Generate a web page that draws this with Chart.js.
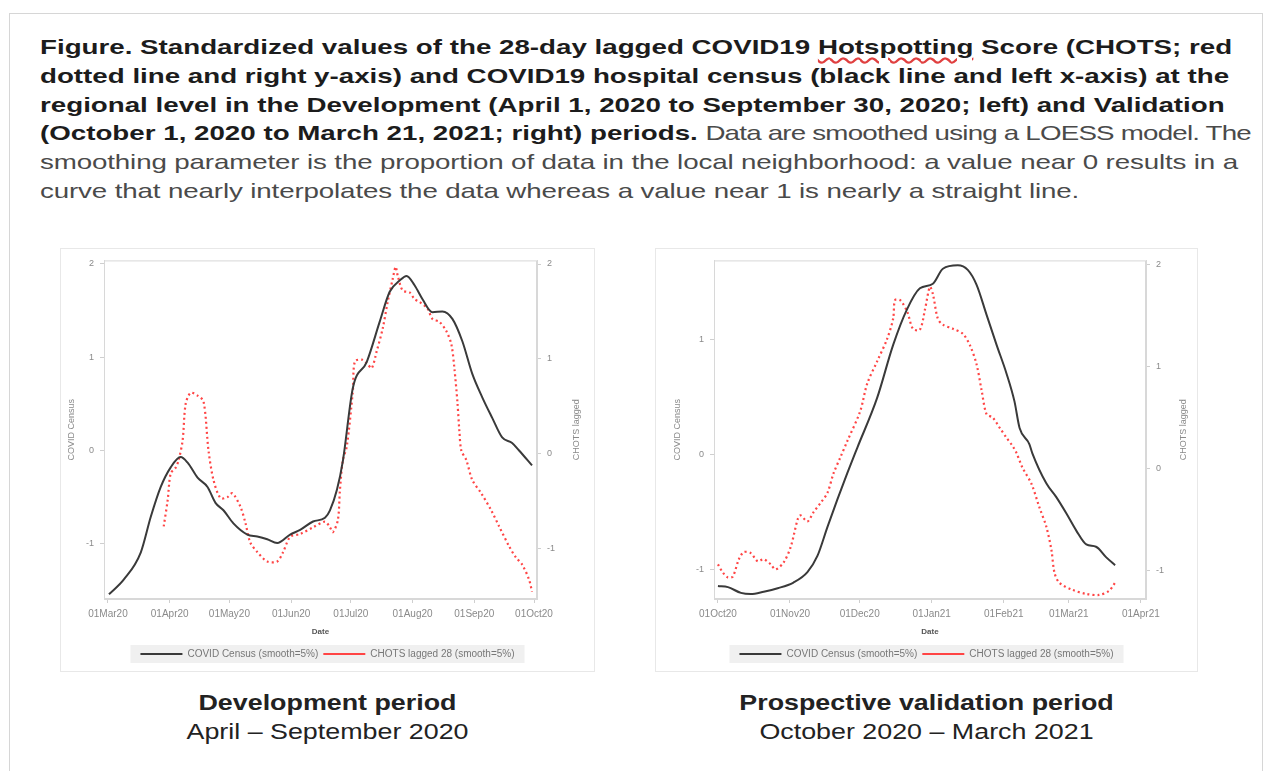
<!DOCTYPE html>
<html>
<head>
<meta charset="utf-8">
<script src="https://cdn.jsdelivr.net/npm/chart.js@4/dist/chart.umd.min.js"></script>
<style>
  body { margin: 0; background: #fff; width: 1266px; height: 771px; overflow: hidden; position: relative;
         font-family: 'Liberation Sans', Arial, sans-serif; }
  #frame { position: absolute; left: 9px; top: 13px; width: 1252px; height: 800px; border: 1px solid #d6d6d6; }
  #caption { position: absolute; left: 40px; top: 33px; font-size: 21px; line-height: 28.8px; color: #4a4a4a;
             white-space: nowrap; transform: scaleX(1.32); transform-origin: 0 0; letter-spacing: -0.1px; }
  #caption b { color: #1c1c1c; letter-spacing: 0; }
  #caption .tight { letter-spacing: -0.6px; }
  .wavy { text-decoration: underline wavy #e04040; text-underline-offset: 3px; }
  .panel { position: absolute; top: 248px; height: 424px; border: 1px solid #e8e8e8; box-sizing: border-box; }
  .sub { position: absolute; top: 688px; text-align: center; font-size: 22px; line-height: 29px; color: #222;
         transform: scaleX(1.22); }
</style>
</head>
<body>
<div id="frame"></div>
<div id="caption">
<b>Figure. Standardized values of the 28-day lagged COVID19 <span class="wavy">Hotspotting</span> Score (CHOTS; red</b><br>
<b>dotted line and right y-axis) and COVID19 hospital census (black line and left x-axis) at the</b><br>
<b>regional level in the Development (April 1, 2020 to September 30, 2020; left) and Validation</b><br>
<b>(October 1, 2020 to March 21, 2021; right) periods.</b> <span class="tight">Data are smoothed using a LOESS model. The</span><br>
smoothing parameter is the proportion of data in the local neighborhood: a value near 0 results in a<br>
curve that nearly interpolates the data whereas a value near 1 is nearly a straight line.
</div>

<div class="panel" style="left:60px;width:535px"><canvas id="dev"></canvas></div>
<div class="panel" style="left:655px;width:543px"><canvas id="val"></canvas></div>

<div class="sub" style="left:60px;width:535px"><b>Development period</b><br>April – September 2020</div>
<div class="sub" style="left:655px;width:543px"><b>Prospective validation period</b><br>October 2020 – March 2021</div>

<script>
// development period: x = days since 01Mar20
const devTickDays = [0, 31, 61, 92, 122, 153, 184, 214];
const devTickLabels = ['01Mar20', '01Apr20', '01May20', '01Jun20', '01Jul20', '01Aug20', '01Sep20', '01Oct20'];

const devCensusDay = [0.5, 8, 16.5, 21.5, 26.5, 31.5, 36.5, 40, 45, 50, 54, 58, 63, 70, 75, 80, 85, 91.5, 96.5,
  103, 109, 111.5, 115, 118, 123, 130, 136.5, 141.5, 146.5, 150, 154, 158, 163, 168, 173, 178, 183, 188, 193,
  198, 203, 206.5, 213];
const devCensus = [-1.54, -1.38, -1.09, -0.71, -0.39, -0.18, -0.07, -0.13, -0.29, -0.39, -0.56, -0.64, -0.78,
  -0.90, -0.92, -0.95, -0.99, -0.90, -0.85, -0.76, -0.72, -0.64, -0.42, -0.11, 0.67, 0.95, 1.38, 1.70, 1.82,
  1.87, 1.77, 1.62, 1.48, 1.49, 1.41, 1.17, 0.82, 0.57, 0.35, 0.14, 0.08, 0.00, -0.16];

const devChotsDay = [28, 30, 31.5, 34, 35.5, 37.5, 39, 41.5, 45, 48, 50.5, 53, 56.5, 60, 62.5, 66.5, 69, 71.5,
  75, 80, 85, 88, 91.5, 96.5, 103, 109, 111.5, 113, 115.5, 116.5, 118, 120, 123, 124, 127.5, 130.5, 132.5, 135,
  138, 140.5, 143, 144.5, 145.5, 148, 151.5, 154, 156.5, 160.5, 163, 166.5, 170, 172.5, 174, 175.5, 176.5,
  177.5, 180, 183, 187.5, 192.5, 196.5, 201.5, 205, 208, 211.5, 213];
const devChots = [-0.77, -0.49, -0.21, -0.15, -0.07, 0.14, 0.52, 0.64, 0.61, 0.55, 0.03, -0.28, -0.47, -0.46,
  -0.42, -0.56, -0.73, -0.94, -1.04, -1.14, -1.14, -1.04, -0.88, -0.85, -0.78, -0.72, -0.78, -0.83, -0.70,
  -0.39, -0.07, 0.08, 0.66, 0.97, 0.99, 0.94, 0.90, 1.08, 1.32, 1.60, 1.84, 1.97, 1.88, 1.72, 1.70, 1.63, 1.60,
  1.53, 1.42, 1.39, 1.29, 1.15, 0.90, 0.55, 0.24, 0.03, -0.07, -0.28, -0.42, -0.60, -0.77, -0.98, -1.10,
  -1.17, -1.33, -1.46];

// validation period: x = days since 01Oct20
const valTickDays = [0, 31, 61, 92, 123, 151, 182];
const valTickLabels = ['01Oct20', '01Nov20', '01Dec20', '01Jan21', '01Feb21', '01Mar21', '01Apr21'];

const valCensusDay = [0, 4.3, 9.9, 14.1, 19.7, 25.7, 32.5, 38.5, 42.8, 47.1, 51.4, 55.7, 60, 68.5, 75.4, 81.4,
  86.9, 92.5, 96.8, 103.2, 107.5, 111.3, 115.6, 119.9, 124.2, 127.6, 129.8, 134, 135.3, 141.3, 145.6, 149.9,
  154.2, 158.5, 162.7, 167, 170.9];
const valCensus = [-1.14, -1.15, -1.20, -1.21, -1.19, -1.16, -1.11, -1.02, -0.88, -0.63, -0.39, -0.16, 0.06,
  0.49, 0.95, 1.26, 1.44, 1.48, 1.61, 1.64, 1.60, 1.47, 1.21, 0.95, 0.70, 0.46, 0.23, 0.09, 0.01, -0.25, -0.37,
  -0.51, -0.66, -0.78, -0.80, -0.89, -0.96];

const valChotsDay = [0, 2.1, 4.3, 6.4, 9, 11.1, 14.1, 17.1, 19.7, 22.7, 24.8, 28.3, 31.3, 34.3, 35.5, 38.5,
  41.1, 44.1, 47.1, 49.7, 52.7, 55.7, 61.2, 64.2, 68.5, 72.8, 75.4, 76.2, 78.4, 81.4, 83.9, 86.9, 89.1, 91.2,
  92.5, 94.6, 96.8, 101.1, 105.4, 108.4, 111.3, 113.5, 115.6, 118.2, 121.2, 124.2, 126.8, 128.5, 131, 134.9,
  138.3, 141.3, 143.5, 144.8, 146.9, 152.5, 158.5, 164, 168.3, 170.9];
const valChots = [-0.94, -1.02, -1.07, -1.06, -0.89, -0.82, -0.83, -0.91, -0.89, -0.94, -0.99, -0.92, -0.77,
  -0.50, -0.46, -0.52, -0.43, -0.34, -0.24, -0.05, 0.11, 0.27, 0.56, 0.83, 1.05, 1.27, 1.47, 1.65, 1.65, 1.54,
  1.37, 1.36, 1.56, 1.78, 1.71, 1.47, 1.41, 1.37, 1.32, 1.21, 1.02, 0.76, 0.53, 0.50, 0.40, 0.30, 0.22, 0.15,
  0.01, -0.15, -0.38, -0.57, -0.80, -1.02, -1.12, -1.19, -1.23, -1.24, -1.20, -1.12];

const yTicks = [-1, 0, 1, 2];

const FONT = "'Liberation Sans', Arial, sans-serif";
const grey = '#8a8a8a';

function pts(xs, ys) {
  return xs.map((x, i) => ({ x: x, y: ys[i] }));
}

// light grey box behind the legend, frame around the plot area,
// and the right axis title written bottom-to-top like the left one
const decorPlugin = {
  id: 'decor',
  beforeDraw(chart) {
    const boxes = chart.legend.legendHitBoxes;
    if (!boxes || !boxes.length) return;
    const ctx = chart.ctx;
    const l = Math.min(...boxes.map(b => b.left)) - 10;
    const r = Math.max(...boxes.map(b => b.left + b.width)) + 10;
    ctx.save();
    ctx.fillStyle = '#f0f0f0';
    ctx.fillRect(l, boxes[0].top - 4, r - l, boxes[0].height + 8);
    ctx.restore();
  },
  beforeDatasetsDraw(chart) {
    const a = chart.chartArea, ctx = chart.ctx;
    ctx.save();
    ctx.strokeStyle = '#d8d8d8';
    ctx.lineWidth = 1;
    ctx.strokeRect(a.left + 0.5, a.top + 0.5, a.right - a.left - 1, a.bottom - a.top - 1);
    ctx.restore();
  },
  afterDraw(chart, args, opts) {
    const s = chart.scales.y1, a = chart.chartArea, ctx = chart.ctx;
    ctx.save();
    ctx.translate(s.right - opts.rightTitleInset, (a.top + a.bottom) / 2);
    ctx.rotate(-Math.PI / 2);
    ctx.font = '9px ' + FONT;
    ctx.fillStyle = grey;
    ctx.textAlign = 'center';
    ctx.textBaseline = 'middle';
    ctx.fillText('CHOTS lagged', 0, 0);
    ctx.restore();
  }
};

function yAxis(pos, min, max, width, title) {
  return {
    type: 'linear', position: pos, min: min, max: max,
    afterFit: s => { s.width = width; },
    afterBuildTicks: s => { s.ticks = yTicks.filter(v => v >= min && v <= max).map(v => ({ value: v })); },
    grid: { drawOnChartArea: false, drawTicks: true, tickLength: 4, color: '#cfcfcf' },
    border: { color: '#d8d8d8' },
    ticks: { font: { family: FONT, size: 9 }, color: grey, padding: 6 },
    title: title
  };
}

function makeChart(id, cfg) {
  new Chart(document.getElementById(id), {
    type: 'line',
    data: {
      datasets: [
        {
          label: 'COVID Census (smooth=5%)', data: pts(cfg.censusDay, cfg.census), yAxisID: 'y',
          borderColor: '#3a3a3a', borderWidth: 2, pointRadius: 0, tension: 0.4, cubicInterpolationMode: 'monotone'
        },
        {
          label: 'CHOTS lagged 28 (smooth=5%)', data: pts(cfg.chotsDay, cfg.chots), yAxisID: 'y1',
          borderColor: '#ff4545', borderWidth: 2.2, borderDash: [2, 3], pointRadius: 0, tension: 0.3
        }
      ]
    },
    options: {
      responsive: true, maintainAspectRatio: false, animation: false,
      layout: { padding: { top: 10, bottom: 2, left: 0, right: 0 } },
      scales: {
        x: {
          type: 'linear', min: cfg.xMin, max: cfg.xMax,
          afterFit: s => { s.height = 45; },
          afterBuildTicks: s => { s.ticks = cfg.tickDays.map(v => ({ value: v })); },
          grid: { drawOnChartArea: false, drawTicks: true, tickLength: 4, color: '#cfcfcf' },
          border: { color: '#d8d8d8' },
          ticks: {
            font: { family: FONT, size: 10 }, color: grey, padding: 5, maxRotation: 0, autoSkip: false,
            callback: v => cfg.tickLabels[cfg.tickDays.indexOf(v)]
          },
          title: { display: true, text: 'Date', font: { family: FONT, size: 8, weight: 'bold' }, color: '#555',
                   padding: { top: 0, bottom: 7 } }
        },
        y: yAxis('left', cfg.yMin, cfg.yMax, cfg.leftW,
          { display: true, text: 'COVID Census', font: { family: FONT, size: 9 }, color: grey, padding: cfg.leftTitlePad }),
        y1: yAxis('right', cfg.y1Min, cfg.y1Max, cfg.rightW, { display: false })
      },
      plugins: {
        legend: {
          position: 'bottom',
          labels: {
            usePointStyle: true, pointStyle: 'line', pointStyleWidth: 42, padding: 5,
            font: { family: FONT, size: 10 }, color: '#777'
          }
        },
        tooltip: { enabled: false },
        decor: { rightTitleInset: cfg.rightTitleInset }
      }
    },
    plugins: [decorPlugin]
  });
}

makeChart('dev', {
  censusDay: devCensusDay, census: devCensus, chotsDay: devChotsDay, chots: devChots,
  tickDays: devTickDays, tickLabels: devTickLabels, xMin: -2, xMax: 215.5,
  yMin: -1.59, yMax: 2.036, y1Min: -1.536, y1Max: 2.038,
  leftW: 43, rightW: 57, leftTitlePad: 5, rightTitleInset: 17
});

makeChart('val', {
  censusDay: valCensusDay, census: valCensus, chotsDay: valChotsDay, chots: valChots,
  tickDays: valTickDays, tickLabels: valTickLabels, xMin: -1.7, xMax: 184.2,
  yMin: -1.253, yMax: 1.682, y1Min: -1.28, y1Max: 2.04,
  leftW: 58, rightW: 51, leftTitlePad: 16, rightTitleInset: 13
});
</script>
</body>
</html>
